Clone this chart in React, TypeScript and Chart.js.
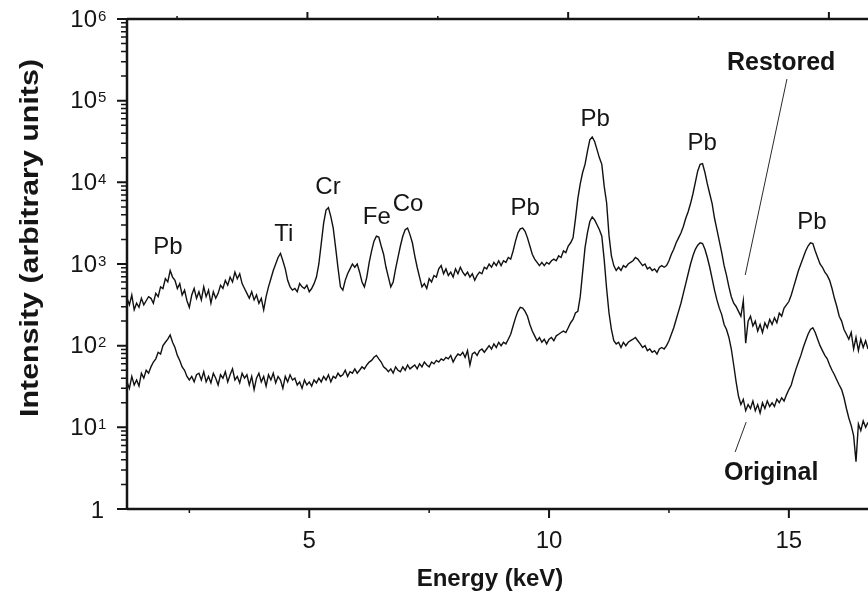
import React, { useEffect, useRef } from "react";
import { Chart, registerables } from "chart.js";

Chart.register(...registerables);

// Channel calibration of the spectra (keV)
const ENERGY_START_KEV = 1.2;
const ENERGY_STEP_KEV = 0.05;

// "Restored" spectrum, intensities (one value per channel)
const restoredCounts = [
  380, 316, 417, 275, 331, 295, 380, 316, 355, 398,
  380, 331, 437, 398, 525, 501, 661, 603, 832, 692,
  631, 501, 575, 417, 479, 355, 295, 417, 501, 380,
  457, 363, 525, 398, 479, 331, 457, 380, 437, 550,
  501, 631, 550, 692, 603, 794, 661, 759, 575, 501,
  437, 380, 457, 363, 417, 331, 380, 275, 398, 525,
  661, 832, 1000, 1202, 1349, 1096, 871, 631, 525, 479,
  501, 457, 575, 525, 501, 550, 457, 501, 575, 692,
  1000, 1778, 3162, 4571, 4898, 3802, 2754, 1585, 891, 525,
  479, 631, 759, 871, 1000, 912, 1000, 794, 603, 525,
  692, 1047, 1445, 1905, 2188, 2138, 1660, 1318, 912, 692,
  525, 603, 871, 1202, 1660, 2188, 2630, 2754, 2291, 1820,
  1259, 912, 692, 525, 575, 501, 661, 603, 724, 692,
  871, 955, 759, 871, 724, 794, 692, 871, 759, 912,
  794, 724, 794, 692, 759, 631, 724, 794, 759, 912,
  871, 1000, 912, 1047, 955, 1096, 955, 1096, 1047, 1202,
  1148, 1445, 1905, 2399, 2692, 2754, 2512, 2089, 1660, 1318,
  1148, 1047, 955, 1047, 955, 1047, 1000, 1096, 1148, 1096,
  1259, 1202, 1445, 1380, 1660, 1820, 2089, 3548, 6310, 9550,
  13183, 16596, 23988, 33113, 35892, 31623, 25119, 19953, 16596, 8913,
  5623, 2239, 1259, 955, 832, 912, 832, 955, 912, 1000,
  1047, 1096, 1202, 1148, 1047, 955, 1000, 871, 912, 832,
  871, 794, 912, 955, 912, 955, 1096, 1318, 1514, 1820,
  2089, 2399, 2884, 3631, 4365, 5495, 7244, 10000, 13804, 16596,
  16982, 13183, 9550, 7244, 5495, 3631, 2630, 1905, 1380, 955,
  724, 525, 398, 331, 302, 263, 229, 355, 107, 200,
  229, 174, 200, 151, 182, 145, 191, 166, 209, 182,
  219, 191, 251, 229, 288, 316, 347, 417, 525, 661,
  832, 1000, 1202, 1445, 1660, 1820, 1778, 1445, 1202, 1000,
  912, 794, 724, 631, 501, 380, 302, 229, 200, 158,
  138, 120, 145, 91, 126, 87, 120, 95, 115, 91,
];

// "Original" spectrum
const originalCounts = [
  36, 30, 42, 33, 38, 32, 46, 40, 50, 46,
  55, 63, 69, 83, 79, 100, 110, 120, 135, 110,
  95, 76, 66, 55, 50, 42, 38, 42, 36, 44,
  46, 38, 48, 36, 42, 35, 46, 40, 33, 44,
  40, 48, 36, 44, 52, 38, 42, 35, 46, 40,
  44, 33, 42, 29, 40, 46, 36, 42, 32, 44,
  38, 46, 35, 42, 38, 30, 42, 36, 44, 38,
  40, 33, 36, 30, 38, 33, 36, 32, 38, 35,
  40, 36, 42, 38, 44, 36, 42, 40, 46, 42,
  44, 50, 42, 48, 46, 52, 46, 50, 55, 52,
  58, 63, 66, 72, 76, 69, 63, 55, 52, 48,
  52, 46, 55, 50, 48, 55, 50, 58, 52, 55,
  58, 52, 60, 55, 63, 58, 55, 63, 60, 66,
  63, 69, 66, 72, 69, 76, 63, 72, 79, 76,
  83, 72, 87, 58, 79, 83, 76, 87, 91, 83,
  91, 100, 91, 105, 95, 110, 100, 110, 105, 120,
  138, 174, 219, 263, 295, 288, 263, 229, 182, 151,
  132, 115, 126, 110, 120, 105, 120, 126, 115, 132,
  138, 145, 151, 145, 166, 191, 209, 251, 263, 398,
  794, 1585, 2399, 3311, 3758, 3467, 3020, 2630, 2188, 1122,
  501, 251, 158, 115, 105, 110, 95, 110, 100, 110,
  115, 120, 126, 115, 105, 95, 100, 87, 91, 83,
  87, 79, 91, 95, 91, 100, 115, 138, 166, 209,
  263, 331, 437, 575, 759, 1000, 1259, 1514, 1698, 1820,
  1778, 1514, 1202, 912, 661, 479, 363, 288, 240, 182,
  158, 126, 91, 58, 36, 24, 19, 22, 16, 19,
  17, 21, 16, 19, 15, 20, 17, 21, 18, 20,
  18, 22, 20, 23, 21, 25, 29, 33, 42, 52,
  63, 76, 95, 115, 138, 158, 166, 145, 120, 100,
  87, 76, 69, 58, 50, 44, 38, 33, 29, 23,
  17, 13, 10.5, 7.9, 3.8, 11, 9.1, 12, 10, 11.5,
];

// Axes
const X_MIN = 1.2;
const X_MAX = 16.65;
// the top frame of the original figure carries its own (slightly offset) tick scale
const X_TOP_MIN = 1.54;
const X_TOP_MAX = 15.75;
const Y_MIN = 1;
const Y_MAX = 1e6;
const xMajorTicks = [5, 10, 15];
const xMinorTicks = [2.5, 7.5, 12.5];
const yDecadeExponents = [0, 1, 2, 3, 4, 5, 6];
const yMinorMultipliers = [2, 3, 4, 5, 6, 7, 8, 9];
const xAxisTitle = "Energy (keV)";
const yAxisTitle = "Intensity (arbitrary units)";

// Peak labels (anchored in data coordinates)
const peakLabelTexts = ["Pb", "Ti", "Cr", "Fe", "Co", "Pb", "Pb", "Pb", "Pb"];
const peakLabelEnergies = [2.055, 4.47, 5.39, 6.41, 7.06, 9.5, 10.96, 13.19, 15.48];
const peakLabelIntensities = [1615, 2330, 8770, 3760, 5430, 4850, 59600, 30300, 3270];

// Series name labels with leader lines
const seriesNames = ["Restored", "Original"];
const seriesNameEnergies = [14.84, 14.63];
const seriesNameIntensities = [289000, 2.76];
const leaderStartEnergies = [14.96, 14.11];
const leaderStartIntensities = [184000, 11.6];
const leaderEndEnergies = [14.09, 13.88];
const leaderEndIntensities = [733, 4.99];

const FONT = '"Liberation Sans", Arial, Helvetica, sans-serif';
const INK = "#151515";

function toPoints(counts: number[]) {
  return counts.map((v, i) => ({ x: ENERGY_START_KEV + i * ENERGY_STEP_KEV, y: v }));
}

const framePlugin = {
  id: "spectrumFrame",
  afterDatasetsDraw(chart: any) {
    const ctx: CanvasRenderingContext2D = chart.ctx;
    const xs = chart.scales.x;
    const xt = chart.scales.xTop;
    const ys = chart.scales.y;
    const { left, right, top, bottom } = chart.chartArea;
    ctx.save();
    ctx.strokeStyle = INK;
    ctx.fillStyle = INK;
    ctx.lineCap = "butt";

    // axis lines
    ctx.lineWidth = 2.5;
    ctx.beginPath();
    ctx.moveTo(left, top - 1);
    ctx.lineTo(left, bottom + 1);
    ctx.moveTo(left, top);
    ctx.lineTo(right, top);
    ctx.moveTo(left, bottom);
    ctx.lineTo(right, bottom);
    ctx.stroke();

    // y major ticks
    ctx.lineWidth = 2;
    ctx.beginPath();
    for (const e of yDecadeExponents) {
      const y = ys.getPixelForValue(Math.pow(10, e));
      ctx.moveTo(left - 10, y);
      ctx.lineTo(left, y);
    }
    ctx.stroke();
    // y minor ticks
    ctx.lineWidth = 1.5;
    ctx.beginPath();
    for (const e of yDecadeExponents) {
      for (const m of yMinorMultipliers) {
        const v = m * Math.pow(10, e);
        if (v > Y_MAX) continue;
        const y = ys.getPixelForValue(v);
        ctx.moveTo(left - 6, y);
        ctx.lineTo(left, y);
      }
    }
    ctx.stroke();

    // x ticks: bottom (outward) and top frame (outward)
    ctx.lineWidth = 2;
    ctx.beginPath();
    for (const v of xMajorTicks) {
      const x = xs.getPixelForValue(v);
      ctx.moveTo(x, bottom);
      ctx.lineTo(x, bottom + 9);
      const xx = xt.getPixelForValue(v);
      ctx.moveTo(xx, top);
      ctx.lineTo(xx, top - 7);
    }
    ctx.stroke();
    ctx.lineWidth = 1.5;
    ctx.beginPath();
    for (const v of xMinorTicks) {
      const x = xs.getPixelForValue(v);
      ctx.moveTo(x, bottom);
      ctx.lineTo(x, bottom + 4);
      const xx = xt.getPixelForValue(v);
      ctx.moveTo(xx, top);
      ctx.lineTo(xx, top - 3);
    }
    ctx.stroke();

    // y tick labels
    for (const e of yDecadeExponents) {
      const y = ys.getPixelForValue(Math.pow(10, e));
      if (e === 0) {
        ctx.font = `24px ${FONT}`;
        ctx.textAlign = "right";
        ctx.textBaseline = "middle";
        ctx.fillText("1", left - 23, y + 2);
      } else {
        ctx.font = `24px ${FONT}`;
        ctx.textAlign = "right";
        ctx.textBaseline = "middle";
        ctx.fillText("10", left - 30, y + 1);
        ctx.font = `15px ${FONT}`;
        ctx.textAlign = "left";
        ctx.textBaseline = "top";
        ctx.fillText(String(e), left - 29, y - 10);
      }
    }

    // x tick labels
    ctx.font = `24px ${FONT}`;
    ctx.textAlign = "center";
    ctx.textBaseline = "middle";
    for (const v of xMajorTicks) {
      ctx.fillText(String(v), xs.getPixelForValue(v), bottom + 32);
    }

    // axis titles
    ctx.font = `bold 24px ${FONT}`;
    ctx.fillText(xAxisTitle, 490, 579);

    ctx.save();
    ctx.translate(31, 238);
    ctx.rotate(-Math.PI / 2);
    ctx.font = `bold 26px ${FONT}`;
    const w = ctx.measureText(yAxisTitle).width;
    ctx.scale(358 / w, 1);
    ctx.textAlign = "center";
    ctx.textBaseline = "middle";
    ctx.fillText(yAxisTitle, 0, 0);
    ctx.restore();

    // peak labels
    ctx.font = `24px ${FONT}`;
    ctx.textAlign = "center";
    ctx.textBaseline = "middle";
    peakLabelTexts.forEach((t, i) => {
      ctx.fillText(t, xs.getPixelForValue(peakLabelEnergies[i]), ys.getPixelForValue(peakLabelIntensities[i]));
    });

    // series names and leader lines
    ctx.font = `bold 25px ${FONT}`;
    seriesNames.forEach((t, i) => {
      ctx.fillText(t, xs.getPixelForValue(seriesNameEnergies[i]), ys.getPixelForValue(seriesNameIntensities[i]));
    });
    ctx.lineWidth = 1;
    ctx.strokeStyle = "#2a2a2a";
    ctx.beginPath();
    seriesNames.forEach((_, i) => {
      ctx.moveTo(xs.getPixelForValue(leaderStartEnergies[i]), ys.getPixelForValue(leaderStartIntensities[i]));
      ctx.lineTo(xs.getPixelForValue(leaderEndEnergies[i]), ys.getPixelForValue(leaderEndIntensities[i]));
    });
    ctx.stroke();

    ctx.restore();
  },
};

export default function App() {
  const canvasRef = useRef<HTMLCanvasElement | null>(null);

  useEffect(() => {
    const canvas = canvasRef.current;
    if (!canvas) return;
    const chart = new Chart(canvas, {
      type: "line",
      data: {
        datasets: [
          {
            label: "Restored",
            data: toPoints(restoredCounts),
            borderColor: "#111",
            borderWidth: 1.4,
            pointRadius: 0,
            tension: 0,
            fill: false,
          },
          {
            label: "Original",
            data: toPoints(originalCounts),
            borderColor: "#111",
            borderWidth: 1.4,
            pointRadius: 0,
            tension: 0,
            fill: false,
          },
        ],
      },
      options: {
        animation: false,
        responsive: false,
        maintainAspectRatio: false,
        events: [],
        layout: { padding: { left: 127, right: 0, top: 19, bottom: 87 } },
        scales: {
          x: { type: "linear", min: X_MIN, max: X_MAX, display: false },
          xTop: { type: "linear", axis: "x", position: "top", min: X_TOP_MIN, max: X_TOP_MAX, display: false },
          y: { type: "logarithmic", min: Y_MIN, max: Y_MAX, display: false },
        },
        plugins: {
          legend: { display: false },
          tooltip: { enabled: false },
        },
      },
      plugins: [framePlugin],
    } as any);
    return () => chart.destroy();
  }, []);

  return (
    <div style={{ position: "absolute", left: 0, top: 0, width: 868, height: 596, background: "#fff" }}>
      <canvas ref={canvasRef} width={868} height={596} style={{ display: "block", width: 868, height: 596 }} />
    </div>
  );
}
